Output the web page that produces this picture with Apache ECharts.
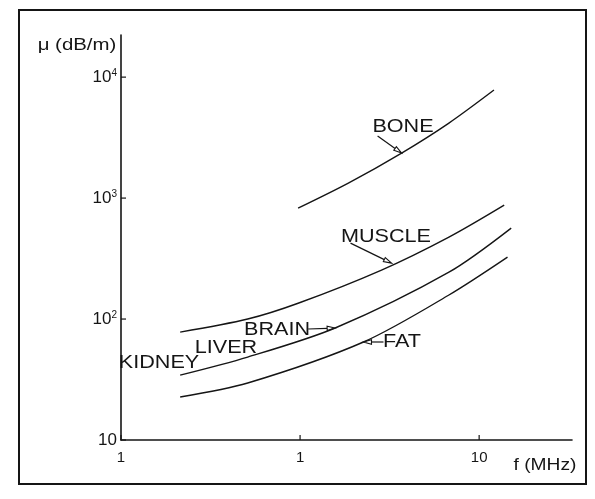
<!DOCTYPE html>
<html>
<head>
<meta charset="utf-8">
<script src="https://cdn.jsdelivr.net/npm/echarts@6/dist/echarts.min.js"></script>
<style>
  html, body { margin: 0; padding: 0; background: #fff; }
  #chart { width: 595px; height: 499px; }
</style>
</head>
<body>
<div id="chart"></div>
<script>
// attenuation curves, frequency in MHz, mu in dB/m
const boneF = [0.975, 1.86, 3.69, 6.78, 12.1];
const boneMu = [826, 1330, 2355, 4170, 7820];

const muscleF = [0.214, 0.51, 0.975, 2.85, 6.78, 13.8];
const muscleMu = [78, 100, 135, 254, 476, 875];

// brain / liver / kidney share one curve
const brainF = [0.214, 0.51, 1.57, 6.78, 15.1];
const brainMu = [34.4, 48.5, 84.3, 244, 565];

const fatF = [0.214, 0.51, 2.26, 6.78, 14.4];
const fatMu = [22.7, 29.6, 64.6, 158, 325];

const xTicks = [0.1, 1, 10];
const xTickLabels = ["1", "1", "10"];
const yTicks = [10, 100, 1000, 10000];
const yTickLabels = [["10", ""], ["10", "2"], ["10", "3"], ["10", "4"]];

// arrows: tip on the curve (data coords), label text
const arrows = [
  { name: "BONE", tip: [3.69, 2355] },
  { name: "MUSCLE", tip: [3.24, 290] },
  { name: "BRAIN", tip: [1.57, 84.3] },
  { name: "FAT", tip: [2.26, 64.6] }
];

const pairs = (xs, ys) => xs.map((x, i) => [x, ys[i]]);
const ink = "#151515";
const font = "Liberation Sans";
const same = (a, b) => Math.abs(Math.log10(a) - Math.log10(b)) < 1e-6;

const chart = echarts.init(document.getElementById("chart"));

const lineSeries = (name, xs, ys) => ({
  name: name,
  type: "line",
  smooth: 0.3,
  symbol: "none",
  data: pairs(xs, ys),
  lineStyle: { color: ink, width: 1.4 },
  silent: true
});

chart.setOption({
  animation: false,
  backgroundColor: "#fff",
  grid: { left: 121, right: 23, top: 35, bottom: 59 },
  xAxis: {
    type: "log",
    logBase: 10,
    min: 0.1,
    max: 33,
    axisLine: { show: true, lineStyle: { color: ink, width: 1.6 } },
    axisTick: { show: false },
    splitLine: { show: false },
    axisLabel: {
      margin: 10,
      color: ink,
      fontFamily: font,
      fontSize: 15,
      formatter: v => {
        const i = xTicks.findIndex(t => same(t, v));
        return i < 0 ? "" : xTickLabels[i];
      }
    }
  },
  yAxis: {
    type: "log",
    logBase: 10,
    min: 10,
    max: 22300,
    axisLine: { show: true, lineStyle: { color: ink, width: 1.6 } },
    axisTick: { show: false },
    splitLine: { show: false },
    axisLabel: {
      margin: 4,
      color: ink,
      fontFamily: font,
      fontSize: 17,
      formatter: v => {
        const i = yTicks.findIndex(t => same(t, v));
        if (i < 0) return "";
        const t = yTickLabels[i];
        return t[1] ? "{b|" + t[0] + "}{s|" + t[1] + "}" : "{b|" + t[0] + "}";
      },
      rich: {
        b: { fontFamily: font, fontSize: 17, color: ink },
        s: { fontFamily: font, fontSize: 10, color: ink, verticalAlign: "top", padding: [0, 0, 8, 0] }
      }
    }
  },
  series: [
    lineSeries("BONE", boneF, boneMu),
    lineSeries("MUSCLE", muscleF, muscleMu),
    lineSeries("BRAIN", brainF, brainMu),
    lineSeries("FAT", fatF, fatMu)
  ]
});

// annotation layer
const toPx = p => chart.convertToPixel({ gridIndex: 0 }, p);

function label(text, x, y, size) {
  return {
    type: "text",
    x: x, y: y,
    scaleX: 1.2,
    silent: true,
    style: {
      text: text,
      fill: ink,
      font: (size || 18) + "px '" + font + "'",
      align: "center",
      verticalAlign: "middle"
    }
  };
}

function seg(x1, y1, x2, y2, w) {
  return {
    type: "line", silent: true,
    shape: { x1: x1, y1: y1, x2: x2, y2: y2 },
    style: { stroke: ink, lineWidth: w || 1.2 }
  };
}

function arrow(tail, tip) {
  const dx = tip[0] - tail[0], dy = tip[1] - tail[1];
  const len = Math.sqrt(dx * dx + dy * dy);
  const ux = dx / len, uy = dy / len;
  const nx = -uy, ny = ux;
  const back = [tip[0] - 8 * ux, tip[1] - 8 * uy];
  return [
    seg(tail[0], tail[1], back[0], back[1]),
    {
      type: "polygon", silent: true,
      shape: { points: [tip, [back[0] + 2.2 * nx, back[1] + 2.2 * ny], [back[0] - 2.2 * nx, back[1] - 2.2 * ny]] },
      style: { fill: "#fff", stroke: ink, lineWidth: 1.1 }
    }
  ];
}

const graphics = [
  {
    type: "rect", silent: true,
    shape: { x: 19, y: 10, width: 567, height: 474 },
    style: { fill: "none", stroke: ink, lineWidth: 2 }
  },
  label("\u03bc (dB/m)", 77, 45, 17),
  label("f (MHz)", 545, 466, 16),
  label("BONE", 403, 127),
  label("MUSCLE", 386, 237),
  label("BRAIN", 277, 330),
  label("LIVER", 226, 348),
  label("KIDNEY", 159, 363),
  label("FAT", 402, 342)
];

// inward tick marks at the decades, placed through the axis scales
const origin = toPx([xTicks[0], yTicks[0]]);
xTicks.forEach(t => {
  const p = toPx([t, yTicks[0]]);
  graphics.push(seg(p[0], origin[1], p[0], origin[1] - 5, 1.2));
});
yTicks.forEach(t => {
  const p = toPx([xTicks[0], t]);
  graphics.push(seg(origin[0], p[1], origin[0] + 5, p[1], 1.2));
});

const tips = {};
arrows.forEach(a => { tips[a.name] = toPx(a.tip); });
const bt = tips.BONE, mt = tips.MUSCLE, brt = tips.BRAIN, ft = tips.FAT;
graphics.push(...arrow([bt[0] - 24, bt[1] - 17], bt));
graphics.push(...arrow([mt[0] - 41, mt[1] - 20], mt));
graphics.push(...arrow([brt[0] - 27, brt[1] + 1], brt));
graphics.push(...arrow([ft[0] + 20, ft[1]], ft));

chart.setOption({ graphic: graphics });
</script>
</body>
</html>
